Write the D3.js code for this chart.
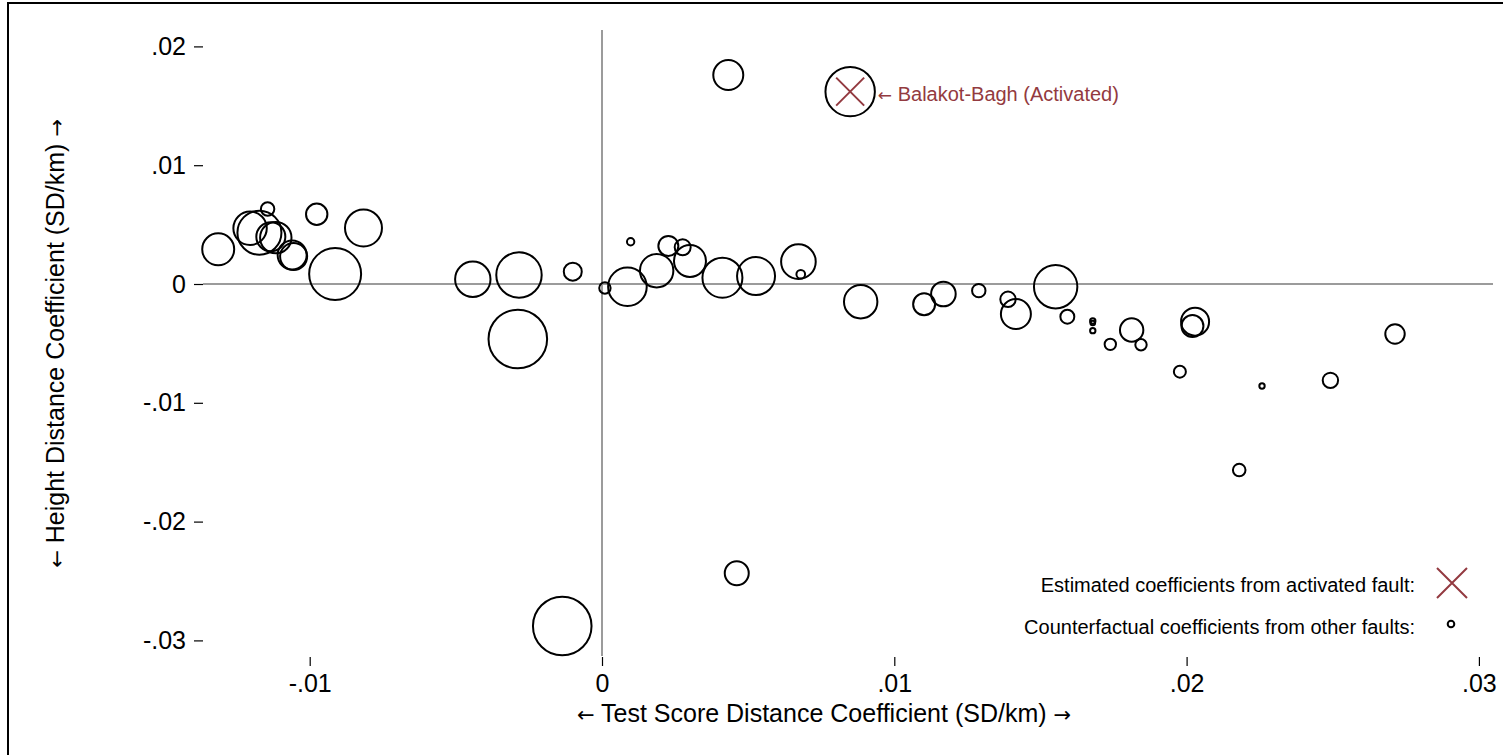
<!DOCTYPE html>
<html>
<head>
<meta charset="utf-8">
<script src="https://cdn.jsdelivr.net/npm/d3@7"></script>
<style>
  html, body { margin: 0; padding: 0; background: #fff; }
  svg { display: block; font-family: "Liberation Sans", Arial, Helvetica, sans-serif; }
</style>
</head>
<body>
<svg id="chart" width="1503" height="755"></svg>
<script>
// Counterfactual faults: test score coefficient, height coefficient, weight (marker area)
const testCoef = [
  -0.01313, -0.01204, -0.01172, -0.01144, -0.01133, -0.01116, -0.01060, -0.01055, -0.00976, -0.00816,
  -0.00913, -0.00442, -0.00284, -0.00100, -0.00288, 0.00010, 0.00087, 0.00187, 0.00098, 0.00227,
  0.00276, 0.00301, 0.00412, 0.00527, 0.00672, 0.00680, 0.00885, 0.01102, 0.01168, 0.01289,
  0.01389, 0.01416, 0.01552, 0.01592, 0.01679, 0.01679, 0.01679, 0.01812, 0.01739, 0.01844,
  0.02029, 0.02020, 0.01977, 0.02258, 0.02492, 0.02713, 0.02180, 0.00432, 0.00461, -0.00136
];
const heightCoef = [
  0.00292, 0.00469, 0.00432, 0.00631, 0.00398, 0.00390, 0.00244, 0.00231, 0.00587, 0.00471,
  0.00084, 0.00040, 0.00076, 0.00104, -0.00463, -0.00034, -0.00023, 0.00112, 0.00356, 0.00320,
  0.00309, 0.00194, 0.00053, 0.00067, 0.00188, 0.00082, -0.00149, -0.00171, -0.00084, -0.00056,
  -0.00129, -0.00253, -0.00023, -0.00275, -0.00311, -0.00328, -0.00393, -0.00387, -0.00508, -0.00511,
  -0.00317, -0.00354, -0.00738, -0.00859, -0.00811, -0.00421, -0.01566, 0.01759, -0.02435, -0.02879
];
const weights = [
  28.4, 31.0, 53.8, 5.0, 23.4, 27.4, 23.4, 20.3, 12.7, 38.0,
  75.0, 34.8, 57.3, 9.0, 95.4, 3.6, 41.4, 31.0, 1.5, 11.1,
  7.1, 28.4, 44.4, 40.1, 33.3, 2.1, 31.0, 13.4, 16.8, 5.0,
  6.6, 25.0, 52.3, 5.4, 0.8, 0.6, 0.8, 15.2, 3.6, 3.6,
  21.8, 13.4, 4.0, 0.8, 6.6, 10.5, 4.4, 25.0, 16.0, 95.4
];

// Activated fault
const activatedName = "Balakot-Bagh (Activated)";
const activatedTest = 0.00849;
const activatedHeight = 0.01619;
const activatedWeight = 67.8;

const xTicks = [-0.01, 0, 0.01, 0.02, 0.03];
const yTicks = [-0.03, -0.02, -0.01, 0, 0.01, 0.02];
const xTitle = "Test Score Distance Coefficient (SD/km)";
const yTitle = "Height Distance Coefficient (SD/km)";
const legendLabels = ["Estimated coefficients from activated fault:", "Counterfactual coefficients from other faults:"];

const maroon = "#933a40";
const grey = "#9b9b9b";
const arrowFont = "DejaVu Sans, sans-serif";

const svg = d3.select("#chart");

// outer frame
svg.append("rect")
  .attr("x", 8).attr("y", 3).attr("width", 1520).attr("height", 780)
  .attr("fill", "none").attr("stroke", "#000").attr("stroke-width", 2);

const plot = { left: 203, right: 1493, top: 30, bottom: 656 };

const x = d3.scaleLinear().domain([-0.01, 0.03]).range([309.7, 1478.9]);
const y = d3.scaleLinear().domain([-0.03, 0.02]).range([640.4, 46.4]);
const r = d3.scaleSqrt().domain([0, 100]).range([0, 30]);

// Stata-style labels: no leading zero, plain hyphen for negatives
const fmt = v => v === 0 ? "0" : d3.format(".2f")(v).replace("\u2212", "-").replace("0.", ".");

// axes
const yAxis = d3.axisLeft(y).tickValues(yTicks).tickSize(9).tickPadding(8).tickFormat(fmt);
const gy = svg.append("g").attr("transform", `translate(${plot.left},0)`).call(yAxis);
gy.select(".domain").remove();
gy.selectAll(".tick line").attr("stroke", "#000").attr("stroke-width", 1.2);
gy.selectAll(".tick text").attr("font-size", 25).attr("fill", "#000")
  .attr("font-family", "Liberation Sans, Arial, sans-serif");

const xAxis = d3.axisBottom(x).tickValues(xTicks).tickSize(9).tickPadding(8).tickFormat(fmt);
const gx = svg.append("g").attr("transform", `translate(0,${plot.bottom + 1})`).call(xAxis);
gx.select(".domain").remove();
gx.selectAll(".tick line").attr("stroke", "#000").attr("stroke-width", 1.2);
gx.selectAll(".tick text").attr("font-size", 25).attr("fill", "#000")
  .attr("font-family", "Liberation Sans, Arial, sans-serif");

// axis title with arrows on either side
function arrowTitle(sel, label) {
  sel.append("tspan").attr("font-family", arrowFont).attr("font-size", 21).text("\u2190");
  sel.append("tspan").text(" " + label + " ");
  sel.append("tspan").attr("font-family", arrowFont).attr("font-size", 21).text("\u2192");
}
const xt = svg.append("text")
  .attr("x", 824).attr("y", 722)
  .attr("text-anchor", "middle").attr("font-size", 25).attr("fill", "#000");
arrowTitle(xt, xTitle);
const yt = svg.append("text")
  .attr("transform", `translate(64,${(y(0.02) + y(-0.03)) / 2}) rotate(-90)`)
  .attr("text-anchor", "middle").attr("font-size", 25).attr("fill", "#000");
arrowTitle(yt, yTitle);

// zero reference lines
svg.append("line")
  .attr("x1", plot.left).attr("x2", plot.right).attr("y1", y(0)).attr("y2", y(0))
  .attr("stroke", grey).attr("stroke-width", 2);
svg.append("line")
  .attr("x1", x(0)).attr("x2", x(0)).attr("y1", plot.top).attr("y2", plot.bottom)
  .attr("stroke", grey).attr("stroke-width", 2);

// counterfactual faults
const pts = testCoef.map((t, i) => ({ t, h: heightCoef[i], w: weights[i] }));
svg.append("g").selectAll("circle").data(pts).join("circle")
  .attr("cx", d => x(d.t)).attr("cy", d => y(d.h)).attr("r", d => r(d.w))
  .attr("fill", "none").attr("stroke", "#000").attr("stroke-width", 2);

// activated fault
const ax = x(activatedTest), ay = y(activatedHeight);
svg.append("circle")
  .attr("cx", ax).attr("cy", ay).attr("r", r(activatedWeight))
  .attr("fill", "none").attr("stroke", "#000").attr("stroke-width", 2);
function cross(g, cx, cy, h) {
  g.append("path")
    .attr("d", `M${cx - h},${cy - h}L${cx + h},${cy + h}M${cx - h},${cy + h}L${cx + h},${cy - h}`)
    .attr("stroke", maroon).attr("stroke-width", 2).attr("fill", "none");
}
cross(svg, ax, ay, 14);
const lab = svg.append("text")
  .attr("x", ax + r(activatedWeight) + 3).attr("y", ay + 9)
  .attr("font-size", 20).attr("fill", maroon);
lab.append("tspan").attr("font-family", arrowFont).attr("font-size", 17).text("\u2190");
lab.append("tspan").text(" " + activatedName);

// legend
svg.append("text").attr("x", 1415).attr("y", 592).attr("text-anchor", "end")
  .attr("font-size", 20).attr("fill", "#000").text(legendLabels[0]);
svg.append("text").attr("x", 1415).attr("y", 634).attr("text-anchor", "end")
  .attr("font-size", 20).attr("fill", "#000").text(legendLabels[1]);
cross(svg, 1452, 583, 15);
svg.append("circle").attr("cx", 1451).attr("cy", 624).attr("r", 3.3)
  .attr("fill", "none").attr("stroke", "#000").attr("stroke-width", 2);
</script>
</body>
</html>
